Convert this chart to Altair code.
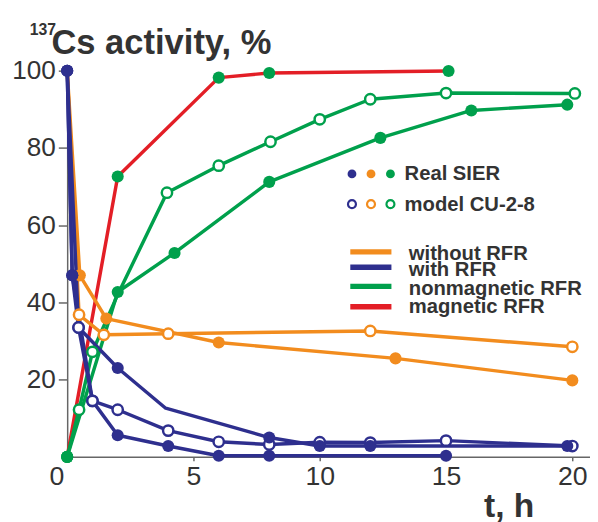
import altair as alt
import pandas as pd

# ---- data (t in hours, 137Cs activity in %) ----
# marker kinds: "f" filled, "o" hollow, "" no marker
# without RFR, Real SIER
wo_real_t = [0, 0.5, 1.55, 6, 13, 20]
wo_real_v = [100, 47, 35.8, 29.6, 25.5, 19.8]
wo_real_m = ["", "f", "f", "f", "f", "f"]
# without RFR, model CU-2-8
wo_model_t = [0, 0.47, 1.45, 4, 12, 20]
wo_model_v = [100, 36.8, 31.6, 31.9, 32.6, 28.5]
wo_model_m = ["", "o", "o", "o", "o", "o"]
# with RFR, Real SIER (upper curve)
w_real_a_t = [0, 0.2, 0.45, 2, 3.9, 8, 10, 12, 19.8]
w_real_a_v = [100, 47, 33.5, 23, 12.6, 5, 2.8, 2.8, 2.8]
w_real_a_m = ["f", "f", "o", "f", "", "f", "f", "f", "f"]
# with RFR, model CU-2-8
w_model_t = [0, 0.45, 1, 2, 4, 6, 8, 10, 12, 15, 20]
w_model_v = [100, 33.5, 14.5, 12.2, 6.8, 3.9, 3.2, 3.8, 3.7, 4.2, 2.8]
w_model_m = ["f", "o", "o", "o", "o", "o", "o", "o", "o", "o", "o"]
# with RFR, Real SIER (lower curve)
w_real_b_t = [0, 0.2, 1, 2, 4, 6, 8, 15]
w_real_b_v = [100, 47, 14.5, 5.6, 2.8, 0.3, 0.3, 0.3]
w_real_b_m = ["f", "f", "o", "f", "f", "f", "f", "f"]
# nonmagnetic RFR, Real SIER
nm_real_t = [0, 2, 4.25, 8, 12.4, 16, 19.8]
nm_real_v = [0, 42.7, 52.8, 71.2, 82.6, 89.7, 91.2]
nm_real_m = ["f", "f", "f", "f", "f", "f", "f"]
# nonmagnetic RFR, model CU-2-8
nm_model_t = [0, 0.47, 1, 2, 3.95, 6, 8.05, 10, 12, 15, 20.1]
nm_model_v = [0, 12.2, 27.2, 42, 68.4, 75.4, 81.6, 87.4, 92.6, 94.2, 94.1]
nm_model_m = ["f", "o", "o", "", "o", "o", "o", "o", "o", "o", "o"]
# magnetic RFR, Real SIER
mg_real_t = [0, 2, 6, 8, 15.1]
mg_real_v = [0, 72.6, 98.2, 99.4, 99.9]
mg_real_m = ["f", "f", "f", "f", "f"]

x_ticks = [0, 5, 10, 15, 20]
y_ticks = [20, 40, 60, 80, 100]

legend_dot_labels = ["Real SIER", "model CU-2-8"]
legend_line_labels = ["without RFR", "with RFR", "nonmagnetic RFR", "magnetic RFR"]

BLUE = "#2e2f8e"
ORANGE = "#f28c1e"
GREEN = "#00a04c"
RED = "#e31e26"
TXT = "#333333"
FONT = "Liberation Sans"

series = [
    ("mg_real", mg_real_t, mg_real_v, mg_real_m, RED, GREEN, "red"),
    ("nm_real", nm_real_t, nm_real_v, nm_real_m, GREEN, GREEN, "green"),
    ("nm_model", nm_model_t, nm_model_v, nm_model_m, GREEN, GREEN, "green"),
    ("wo_real", wo_real_t, wo_real_v, wo_real_m, ORANGE, ORANGE, "orange"),
    ("wo_model", wo_model_t, wo_model_v, wo_model_m, ORANGE, ORANGE, "orange"),
    ("w_real_a", w_real_a_t, w_real_a_v, w_real_a_m, BLUE, BLUE, "blue"),
    ("w_model", w_model_t, w_model_v, w_model_m, BLUE, BLUE, "blue"),
    ("w_real_b", w_real_b_t, w_real_b_v, w_real_b_m, BLUE, BLUE, "blue"),
]

rows = []
for name, ts, vs, ms, lc, mc, grp in series:
    for i, (t, v, m) in enumerate(zip(ts, vs, ms)):
        rows.append(dict(series=name, i=i, t=t, v=v, kind=m, lc=lc, mc=mc, grp=grp))
df = pd.DataFrame(rows)

W, H = 530, 391.5
xscale = alt.Scale(domain=[0, 20.7], nice=False, zero=False)
yscale = alt.Scale(domain=[0, 100], nice=False, zero=False)

xaxis = alt.Axis(
    values=x_ticks, title=None, grid=False, domainColor="#666666", domainWidth=1.5,
    tickColor="#666666", tickWidth=1.5, tickSize=4, labelFont=FONT, labelFontSize=27,
    labelColor=TXT, labelPadding=3, labelFlush=False,
    labelOffset={"expr": "datum.value == 0 ? -11 : 0"},
)
yaxis = alt.Axis(
    values=y_ticks, title=None, grid=False, domainColor="#666666", domainWidth=1.5,
    tickColor="#666666", tickWidth=1.5, tickSize=9, labelFont=FONT, labelFontSize=26.5,
    labelColor=TXT, labelPadding=3, labelFlush=False,
)

base = alt.Chart(df)
enc = dict(
    x=alt.X("t:Q", scale=xscale, axis=xaxis),
    y=alt.Y("v:Q", scale=yscale, axis=yaxis),
)

layers = []
for grp in ["red", "green", "orange", "blue"]:
    layers.append(
        base.transform_filter(alt.datum.grp == grp)
        .mark_line(strokeWidth=3.5, strokeJoin="round", strokeCap="round")
        .encode(color=alt.Color("lc:N", scale=None), detail="series:N", order="i:Q", **enc)
    )

hollow = base.transform_filter(alt.datum.kind == "o").mark_point(
    shape="circle", filled=False, fill="white", fillOpacity=1, opacity=1, size=110, strokeWidth=2.5
).encode(stroke=alt.Stroke("mc:N", scale=None), **enc)
filled = base.transform_filter(alt.datum.kind == "f").mark_point(
    shape="circle", filled=True, opacity=1, size=150
).encode(fill=alt.Fill("mc:N", scale=None), **enc)
layers += [hollow, filled]

one = pd.DataFrame({"a": [0]})

def txt(text, x, y, size, bold=True, align="left"):
    return alt.Chart(one).mark_text(
        text=text, font=FONT, fontSize=size, fontWeight="bold" if bold else "normal",
        color=TXT, align=align, baseline="alphabetic"
    ).encode(x=alt.value(x), y=alt.value(y))

# titles
layers.append(txt("Cs activity, %", -16, -16.5, 35))
layers.append(txt("137", -38, -36.5, 16))
layers.append(txt("t, h", 448, 452, 34, align="center"))

# legend: markers
for j, c in enumerate([BLUE, ORANGE, GREEN]):
    xx = [288.7, 308, 327.7][j]
    layers.append(alt.Chart(one).mark_point(shape="circle", filled=True, size=80, opacity=1, fill=c)
                  .encode(x=alt.value(xx), y=alt.value(104.7)))
    layers.append(alt.Chart(one).mark_point(shape="circle", filled=False, fill="white", fillOpacity=1,
                                            size=65, strokeWidth=2.2, opacity=1, stroke=c)
                  .encode(x=alt.value(xx), y=alt.value(135.3)))
layers.append(txt(legend_dot_labels[0], 342, 111.3, 20.5))
layers.append(txt(legend_dot_labels[1], 342, 142, 20.5))

# legend: lines
for lab, c, ly, ty in zip(legend_line_labels, [ORANGE, BLUE, GREEN, RED],
                          [183.7, 199.3, 218.7, 239.3], [192, 208, 227, 246]):
    layers.append(alt.Chart(one).mark_rule(strokeWidth=5.5, color=c)
                  .encode(x=alt.value(287), x2=alt.value(328.7), y=alt.value(ly)))
    layers.append(txt(lab, 346.3, ty, 20.5))

chart = alt.layer(*layers).properties(
    width=W, height=H,
    autosize=alt.AutoSizeParams(type="none"),
    padding={"left": 60, "top": 60, "right": 0, "bottom": 62},
    background="white",
).configure_view(stroke=None)

chart.save("out.html", embed_options={"renderer": "svg", "actions": False})
